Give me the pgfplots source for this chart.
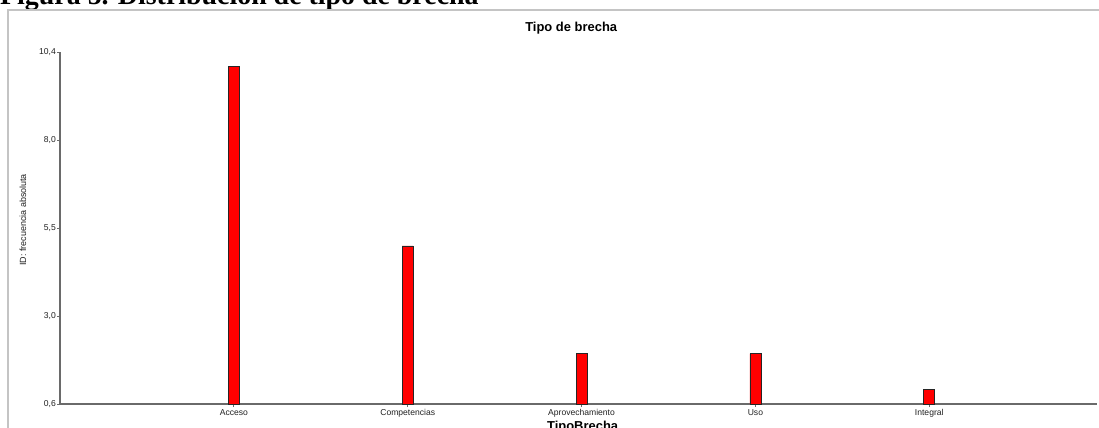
\documentclass[border=0pt]{standalone}
\usepackage{fontspec}
\setmainfont{Liberation Sans}
\newfontfamily\capfont{Liberation Serif}
\usepackage{pgfplots}
\pgfplotsset{compat=1.18}
\definecolor{axgray}{HTML}{6A6A6A}
\definecolor{framegray}{HTML}{C4C4C4}
\definecolor{txt}{HTML}{222222}
\begin{document}
\begin{tikzpicture}[x=1bp,y=1bp]
\useasboundingbox (0,0) rectangle (1099,427);
\fill[white] (0,0) rectangle (1099,427);
% caption (cut off at the top)
\node[anchor=base west, inner sep=0pt, font=\capfont\bfseries\fontsize{28}{30}\selectfont] at (0,422) {Figura 5. Distribución de tipo de brecha};
% frame
\draw[framegray, line width=2bp] (8,-20) -- (8,416.5) -- (1120,416.5);
\begin{axis}[
  at={(60bp,23bp)}, anchor=south west,
  scale only axis, width=1037bp, height=352bp,
  xmin=0, xmax=5.965, ymin=0.6, ymax=10.4,
  axis x line*=bottom, axis y line*=left,
  axis line style={axgray, line width=1.3bp, -},
  xtick={1,2,3,4,5},
  xticklabels={Acceso,Competencias,Aprovechamiento,Uso,Integral},
  ytick={0.6,3.05,5.5,7.95,10.4},
  yticklabels={{0,6},{3,0},{5,5},{8,0},{10,4}},
  tick align=outside, major tick length=3bp,
  tick style={axgray, line width=0.8bp},
  ticklabel style={font=\fontsize{8.6}{10}\selectfont, text=txt},
  yticklabel style={inner xsep=1bp},
  xticklabel style={inner ysep=2.5bp},
  title={\textbf{Tipo de brecha}},
  title style={at={(axis description cs:0.493,1.057)}, anchor=base, yshift=0pt, font=\fontsize{13}{15}\selectfont, text=black},
  every axis title shift=0pt,
  xlabel={\textbf{TipoBrecha}},
  xlabel style={at={(axis description cs:0.504,-0.074)}, anchor=base, font=\fontsize{13}{15}\selectfont, text=black},
  ylabel={ID: frecuencia absoluta},
  ylabel style={at={(axis description cs:-0.0357,0.523)}, anchor=center, rotate=0, font=\fontsize{9}{11}\selectfont, text=txt},
  ybar, bar width=11bp, bar shift=0pt,
  clip=true,
]
\addplot[fill=red, draw=black!85, line width=0.8bp] coordinates {(1,10) (2,5) (3,2) (4,2) (5,1)};
\end{axis}
\end{tikzpicture}
\end{document}
